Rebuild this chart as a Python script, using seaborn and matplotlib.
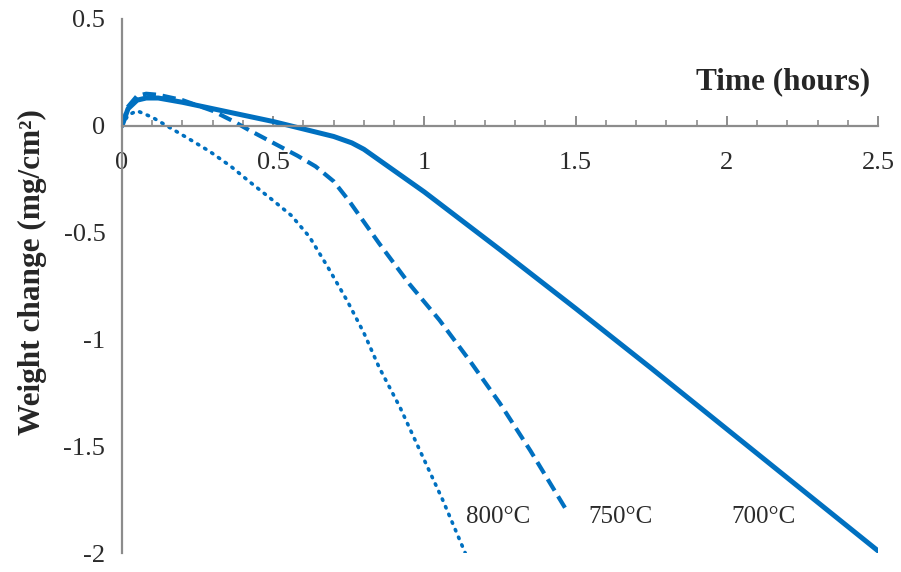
import numpy as np
import pandas as pd
import matplotlib
matplotlib.use("Agg")
import matplotlib.pyplot as plt
import seaborn as sns
from matplotlib.ticker import MultipleLocator

# data (time in hours, weight change in mg/cm2)
t700 = [0, 0.02, 0.05, 0.08, 0.12, 0.2, 0.3, 0.4, 0.5, 0.6, 0.7, 0.76, 0.8, 0.84,
        0.9, 1.0, 1.25, 1.5, 1.75, 2.0, 2.25, 2.5]
w700 = [0, 0.08, 0.12, 0.13, 0.13, 0.11, 0.08, 0.05, 0.02, -0.015, -0.05, -0.08, -0.11, -0.15,
        -0.21, -0.31, -0.58, -0.855, -1.135, -1.42, -1.705, -1.99]

t750 = [0, 0.02, 0.05, 0.08, 0.12, 0.2, 0.3, 0.37, 0.42, 0.5, 0.58, 0.64, 0.7, 0.75,
        0.85, 0.95, 1.05, 1.15, 1.25, 1.35, 1.47]
w750 = [0, 0.09, 0.14, 0.15, 0.145, 0.12, 0.07, 0.02, -0.02, -0.08, -0.14, -0.19, -0.26, -0.35,
        -0.55, -0.74, -0.91, -1.10, -1.30, -1.52, -1.80]

t800 = [0, 0.02, 0.05, 0.1, 0.16, 0.22, 0.29, 0.36, 0.42, 0.5, 0.56, 0.62, 0.68, 0.745,
        0.8, 0.85, 0.92, 0.985, 1.06, 1.135]
w800 = [0, 0.05, 0.07, 0.04, -0.01, -0.06, -0.12, -0.19, -0.26, -0.35, -0.42, -0.52, -0.66, -0.82,
        -0.97, -1.13, -1.32, -1.52, -1.75, -2.0]

labels = ["800°C", "750°C", "700°C"]
label_x = [1.245, 1.65, 2.12]
label_y = [-1.83, -1.83, -1.83]

sns.set_style("white")
plt.rcParams['font.family'] = ['Liberation Serif', 'DejaVu Serif']
plt.rcParams['axes.unicode_minus'] = False

blue = "#0070C0"
grey = "#8c8c8c"

fig = plt.figure(figsize=(9.01, 5.72), dpi=100)
ax = fig.add_axes([0.1354, 0.0332, 0.8391, 0.9336])

# solid 700, dashed 750, dotted 800
sns.lineplot(x=t700, y=w700, ax=ax, color=blue, lw=3.6, sort=False, estimator=None)
sns.lineplot(x=t750, y=w750, ax=ax, color=blue, lw=3.0, sort=False, estimator=None)
sns.lineplot(x=t800, y=w800, ax=ax, color=blue, lw=2.6, sort=False, estimator=None)
ax.lines[1].set_dashes((3.2, 1.6))
ax.lines[2].set_dashes((0.4, 1.9))
ax.lines[2].set_dash_capstyle('round')
ax.lines[0].set_solid_capstyle('round')

for txt, x, y in zip(labels, label_x, label_y):
    ax.text(x, y, txt, fontsize=18, color="#2b2b2b", ha='center', va='center')

ax.set_xlim(0, 2.5)
ax.set_ylim(-2, 0.5)

# axes like the original excel chart
ax.spines['top'].set_visible(False)
ax.spines['right'].set_visible(False)
ax.spines['bottom'].set_position(('data', 0))
for s in ['left', 'bottom']:
    ax.spines[s].set_color(grey)
    ax.spines[s].set_linewidth(1.6)

ax.xaxis.set_minor_locator(MultipleLocator(0.1))
ax.set_xticks([0, 0.5, 1, 1.5, 2, 2.5])
ax.set_xticklabels(["0", "0.5", "1", "1.5", "2", "2.5"])
ax.set_yticks([0.5, 0, -0.5, -1, -1.5, -2])
ax.set_yticklabels(["0.5", "0", "-0.5", "-1", "-1.5", "-2"])

ax.tick_params(axis='x', which='both', bottom=True)
ax.tick_params(axis='x', which='major', direction='in', length=7, width=1.4,
               color=grey, pad=19, labelsize=19, labelcolor="#2b2b2b")
ax.tick_params(axis='x', which='minor', direction='in', length=4, width=1.2, color=grey)
ax.tick_params(axis='y', left=False, length=0, pad=12, labelsize=19, labelcolor="#2b2b2b")

ax.set_xlabel("Time (hours)", fontsize=22.5, fontweight='bold', ha='right', va='center')
ax.xaxis.set_label_coords(0.989, 0.882)
ax.set_ylabel("Weight change (mg/cm²)", fontsize=22.5, fontweight='bold', va='center')
ax.yaxis.set_label_coords(-0.118, 0.527)

ax.patch.set_alpha(0)
fig.savefig("out.png", dpi=100)
